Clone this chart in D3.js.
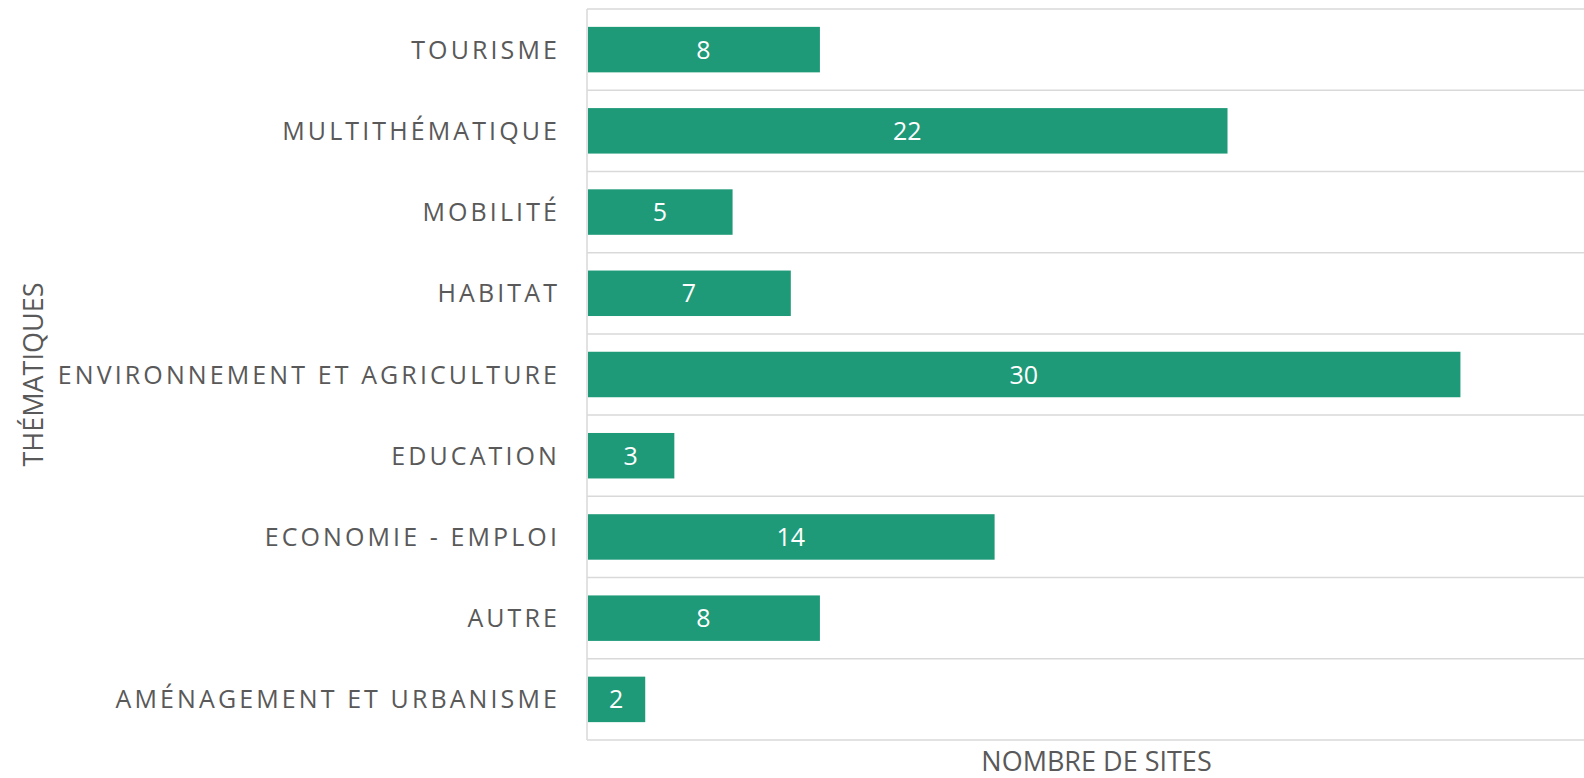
<!DOCTYPE html>
<html>
<head>
<meta charset="utf-8">
<script src="https://cdn.jsdelivr.net/npm/d3@7"></script>
<style>
  body { margin: 0; background: #fff; }
  svg { display: block; }
</style>
</head>
<body>
<svg id="chart"></svg>
<script>
// categories, top to bottom
const themes = [
  "TOURISME",
  "MULTITHÉMATIQUE",
  "MOBILITÉ",
  "HABITAT",
  "ENVIRONNEMENT ET AGRICULTURE",
  "EDUCATION",
  "ECONOMIE - EMPLOI",
  "AUTRE",
  "AMÉNAGEMENT ET URBANISME"
];
const sites = [8, 22, 5, 7, 30, 3, 14, 8, 2];
const xTitle = "NOMBRE DE SITES";
const yTitle = "THÉMATIQUES";

function drawChart(svgSelector, width, height) {
  const svg = d3.select(svgSelector)
    .attr("width", width)
    .attr("height", height)
    .attr("viewBox", `0 0 ${width} ${height}`);

  svg.selectAll("*").remove();

  const margin = { top: 9, right: -22, bottom: 38, left: 587 };
  const chartWidth = width - margin.left - margin.right;
  const chartHeight = height - margin.top - margin.bottom;
  const font = "'Open Sans', 'Liberation Sans', sans-serif";
  const grey = "#595959";
  const gridColor = "#d9d9d9";

  const g = svg.append("g")
    .attr("transform", `translate(${margin.left},${margin.top})`);

  const data = themes.map((t, i) => ({ theme: t, value: sites[i] }));

  // y axis
  const y = d3.scaleBand()
    .domain(themes)
    .range([0, chartHeight])
    .paddingInner(0.44)
    .paddingOuter(0.22);

  // x axis
  const x = d3.scaleLinear()
    .domain([0, 35])
    .range([0, chartWidth]);

  // gridlines between categories
  const step = y.step();
  const bounds = d3.range(themes.length + 1).map(i => i * step);
  g.selectAll("line.grid")
    .data(bounds)
    .join("line")
    .attr("class", "grid")
    .attr("x1", 0)
    .attr("x2", chartWidth)
    .attr("y1", d => d)
    .attr("y2", d => d)
    .attr("stroke", gridColor)
    .attr("stroke-width", 1.5);

  // left axis line
  g.append("line")
    .attr("x1", 0)
    .attr("x2", 0)
    .attr("y1", 0)
    .attr("y2", chartHeight)
    .attr("stroke", gridColor)
    .attr("stroke-width", 1.5);

  // bars
  g.selectAll("rect.bar")
    .data(data)
    .join("rect")
    .attr("class", "bar")
    .attr("x", x(0) + 1)
    .attr("y", d => y(d.theme))
    .attr("width", d => x(d.value) - x(0) - 1)
    .attr("height", y.bandwidth())
    .attr("fill", "#1e9a78");

  // value labels
  g.selectAll("text.val")
    .data(data)
    .join("text")
    .attr("class", "val")
    .attr("x", d => (x(0) + x(d.value)) / 2)
    .attr("y", d => y(d.theme) + y.bandwidth() / 2)
    .attr("dy", "0.36em")
    .attr("text-anchor", "middle")
    .attr("fill", "#fff")
    .style("font-family", font)
    .style("font-size", "25px")
    .text(d => d.value);

  // category labels
  g.selectAll("text.cat")
    .data(themes)
    .join("text")
    .attr("class", "cat")
    .attr("x", -27)
    .attr("y", d => y(d) + y.bandwidth() / 2)
    .attr("dy", "0.36em")
    .attr("text-anchor", "end")
    .attr("fill", grey)
    .style("font-family", font)
    .style("font-size", "25px")
    .style("letter-spacing", "3.1px")
    .text(d => d);

  // axis titles
  svg.append("text")
    .attr("x", margin.left + chartWidth / 2)
    .attr("y", height - 7)
    .attr("text-anchor", "middle")
    .attr("fill", grey)
    .style("font-family", font)
    .style("font-size", "27px")
    .text(xTitle);

  svg.append("text")
    .attr("transform", `translate(33,${margin.top + chartHeight / 2}) rotate(-90)`)
    .attr("dy", "0.36em")
    .attr("text-anchor", "middle")
    .attr("fill", grey)
    .style("font-family", font)
    .style("font-size", "27px")
    .text(yTitle);
}

drawChart("#chart", 1584, 778);
</script>
</body>
</html>
